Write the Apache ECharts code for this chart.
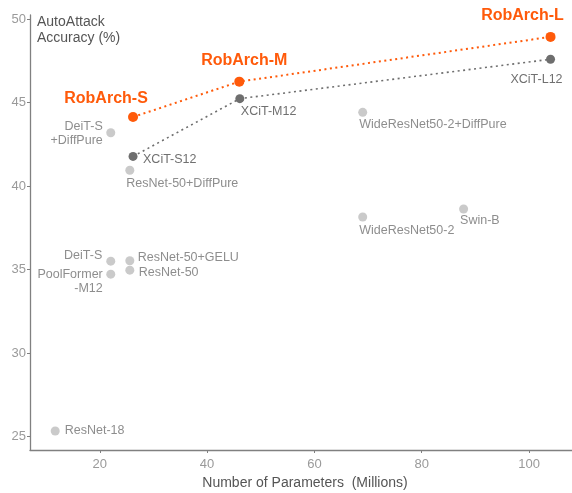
<!DOCTYPE html>
<html>
<head>
<meta charset="utf-8">
<script src="https://cdn.jsdelivr.net/npm/echarts@6/dist/echarts.min.js"></script>
<style>html,body{margin:0;padding:0;background:#fff}#c{width:572px;height:493px}</style>
</head>
<body>
<div id="c"></div>
<script>
// ---- data ----
const robarchNames = ['RobArch-S', 'RobArch-M', 'RobArch-L'];
const robarchParams = [26.2, 46.0, 104.0];
const robarchAcc = [44.14, 46.26, 48.94];

const xcitNames = ['XCiT-S12', 'XCiT-M12', 'XCiT-L12'];
const xcitParams = [26.2, 46.1, 104.0];
const xcitAcc = [41.78, 45.24, 47.60];

const otherNames = ['DeiT-S\n+DiffPure', 'ResNet-50+DiffPure', 'WideResNet50-2+DiffPure', 'WideResNet50-2', 'Swin-B',
  'DeiT-S', 'PoolFormer\n-M12', 'ResNet-50+GELU', 'ResNet-50', 'ResNet-18'];
const otherParams = [22.05, 25.6, 69.0, 69.0, 87.8, 22.05, 22.05, 25.6, 25.6, 11.7];
const otherAcc = [43.2, 40.95, 44.42, 38.15, 38.63, 35.51, 34.73, 35.53, 34.97, 25.34];

const xTicks = [20, 40, 60, 80, 100];
const yTicks = [25, 30, 35, 40, 45, 50];

const yAxisTitle = 'AutoAttack\nAccuracy (%)';
const xAxisTitle = 'Number of Parameters  (Millions)';

// ---- label layout (styling, separate from data) ----
const labelLayout = {
  'RobArch-S': {align: 'center', offset: [-27, -18]},
  'RobArch-M': {align: 'center', offset: [5, -21]},
  'RobArch-L': {align: 'center', offset: [-28, -21]},
  'XCiT-S12': {align: 'left', offset: [10, 3]},
  'XCiT-M12': {align: 'left', offset: [1, 13]},
  'XCiT-L12': {align: 'right', offset: [12, 20]},
  'DeiT-S\n+DiffPure': {align: 'right', offset: [-8, 0.5]},
  'ResNet-50+DiffPure': {align: 'left', offset: [-3.5, 13.5]},
  'WideResNet50-2+DiffPure': {align: 'left', offset: [-3.5, 12.5]},
  'WideResNet50-2': {align: 'left', offset: [-3.5, 13.5]},
  'Swin-B': {align: 'left', offset: [-3.5, 11.5]},
  'DeiT-S': {align: 'right', offset: [-8.5, -5.5]},
  'PoolFormer\n-M12': {align: 'right', offset: [-8, 7.5]},
  'ResNet-50+GELU': {align: 'left', offset: [8, -3.5]},
  'ResNet-50': {align: 'left', offset: [9, 2]},
  'ResNet-18': {align: 'left', offset: [9.5, 0]}
};

const ORANGE = '#ff5a0a';
const FONT = '"Liberation Sans", Arial, sans-serif';

function build(names, xs, ys, labelStyle) {
  return names.map((n, i) => {
    const l = labelLayout[n];
    return {
      name: n,
      value: [xs[i], ys[i]],
      label: Object.assign({
        show: true,
        position: 'inside',
        formatter: n,
        align: l.align,
        verticalAlign: 'middle',
        offset: l.offset
      }, labelStyle)
    };
  });
}

const grayLabel = {color: '#707070', fontSize: 12.5, fontFamily: FONT, lineHeight: 14};
const orangeLabel = {color: ORANGE, fontSize: 16, fontWeight: 'bold', fontFamily: FONT};

const chart = echarts.init(document.getElementById('c'), null, {renderer: 'canvas'});
chart.setOption({
  animation: false,
  backgroundColor: '#fff',
  title: {
    text: yAxisTitle, left: 37, top: 14, padding: 0,
    textStyle: {color: '#555', fontSize: 14, fontWeight: 'normal', fontFamily: FONT, lineHeight: 16}
  },
  grid: {left: 30, right: 0, top: 15, bottom: 43, outerBoundsMode: 'none', containLabel: false},
  xAxis: {
    type: 'value', min: 7, max: 108,
    name: xAxisTitle,
    nameLocation: 'middle', nameGap: 23,
    nameTextStyle: {color: '#555', fontSize: 14, fontFamily: FONT, padding: [0, 0, 0, 8]},
    axisLine: {show: true, onZero: false, lineStyle: {color: '#808080', width: 1.3}},
    axisTick: {show: true, length: 3, lineStyle: {color: '#808080'}, customValues: xTicks},
    axisLabel: {color: '#9a9a9a', fontSize: 13, fontFamily: FONT, margin: 8, customValues: xTicks},
    splitLine: {show: false}
  },
  yAxis: {
    type: 'value', min: 24.2, max: 50.25,
    axisLine: {show: true, onZero: false, lineStyle: {color: '#808080', width: 1.3}},
    axisTick: {show: true, length: 3, lineStyle: {color: '#808080'}, customValues: yTicks},
    axisLabel: {color: '#9a9a9a', fontSize: 13, fontFamily: FONT, margin: 4, customValues: yTicks},
    splitLine: {show: false}
  },
  series: [
    {
      type: 'scatter', name: 'others',
      symbol: 'circle', symbolSize: 9,
      itemStyle: {color: '#bdbdbd'},
      data: build(otherNames, otherParams, otherAcc, grayLabel),
      z: 2
    },
    {
      type: 'line', name: 'XCiT',
      symbol: 'circle', symbolSize: 9, showSymbol: true,
      itemStyle: {color: '#6e6e6e'},
      lineStyle: {color: '#6e6e6e', width: 1.6, type: [2, 3.5]},
      data: build(xcitNames, xcitParams, xcitAcc, grayLabel),
      z: 3
    },
    {
      type: 'line', name: 'RobArch',
      symbol: 'circle', symbolSize: 10, showSymbol: true,
      itemStyle: {color: ORANGE},
      lineStyle: {color: ORANGE, width: 2, type: [2, 3.5]},
      data: build(robarchNames, robarchParams, robarchAcc, orangeLabel),
      z: 4
    }
  ]
});
</script>
</body>
</html>
